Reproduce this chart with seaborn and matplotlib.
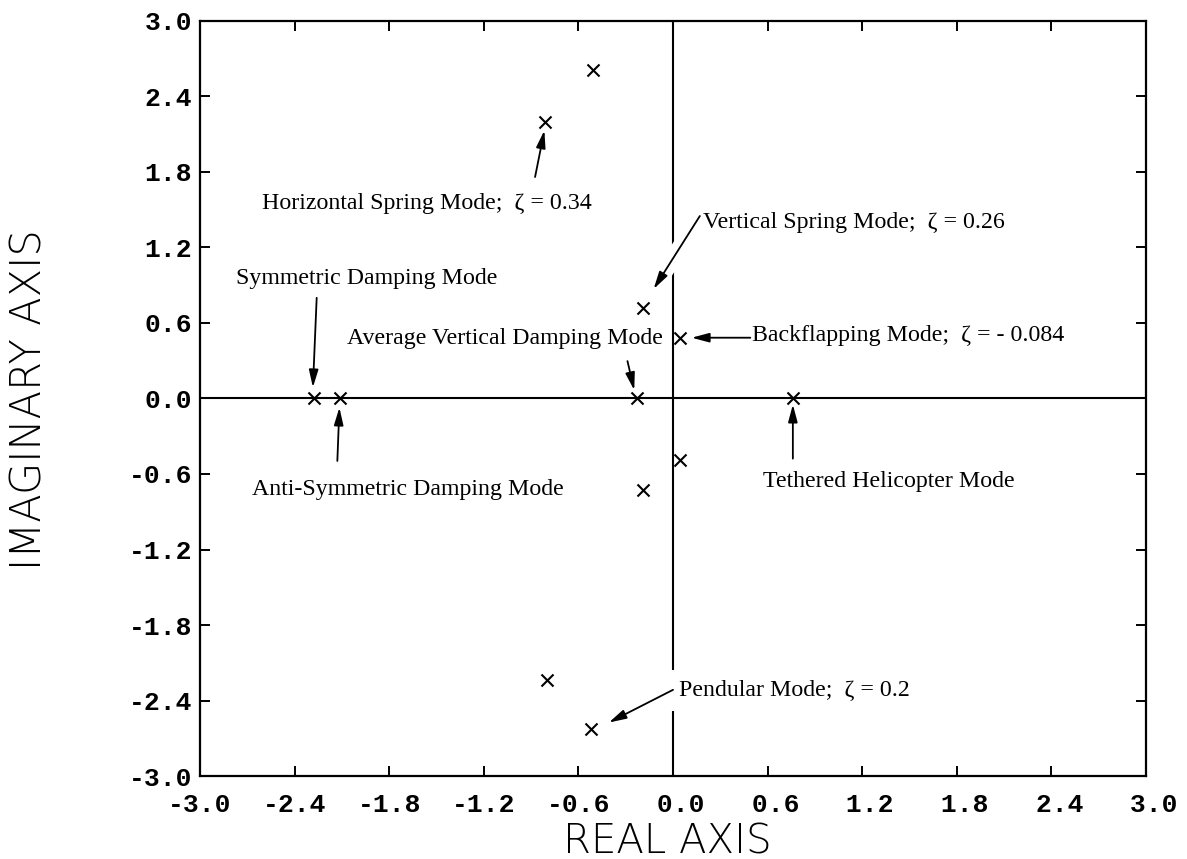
import numpy as np
import pandas as pd
import matplotlib
matplotlib.use("Agg")
import matplotlib.pyplot as plt
import seaborn as sns

# ---------------- data ----------------
real_part = [-0.51, -0.81, -0.19, 0.045, -2.28, -2.11, -0.23, 0.76, 0.045, -0.19, -0.80, -0.52]
imag_part = [2.61, 2.20, 0.72, 0.48, 0.0, 0.0, 0.0, 0.0, -0.49, -0.73, -2.24, -2.63]

tick_values = [-3.0, -2.4, -1.8, -1.2, -0.6, 0.0, 0.6, 1.2, 1.8, 2.4, 3.0]
x_tick_labels = ["-3.0", "-2.4", "-1.8", "-1.2", "-0.6", " 0.0", " 0.6", " 1.2", " 1.8", " 2.4", " 3.0"]
y_tick_labels = ["-3.0", "-2.4", "-1.8", "-1.2", "-0.6", "0.0", "0.6", "1.2", "1.8", "2.4", "3.0"]

label_texts = [
    "Horizontal Spring Mode;  \u03b6 = 0.34",
    "Vertical Spring Mode;  \u03b6 = 0.26",
    "Symmetric Damping Mode",
    "Average Vertical Damping Mode",
    "Backflapping Mode;  \u03b6 = - 0.084",
    "Anti-Symmetric Damping Mode",
    "Tethered Helicopter Mode",
    "Pendular Mode;  \u03b6 = 0.2",
]
label_x = [-2.61, 0.19, -2.77, -2.07, 0.50, -2.67, 0.57, 0.036]
label_y = [1.55, 1.40, 0.95, 0.48, 0.50, -0.72, -0.66, -2.32]

arrow_tail_x = [-0.875, 0.17, -2.26, -0.289, 0.49, -2.129, 0.76, 0.0]
arrow_tail_y = [1.76, 1.45, 0.80, 0.297, 0.483, -0.496, -0.478, -2.315]
arrow_head_x = [-0.816, -0.123, -2.284, -0.246, 0.118, -2.116, 0.76, -0.407]
arrow_head_y = [2.13, 0.87, 0.088, 0.066, 0.483, -0.072, -0.048, -2.575]

# ---------------- style ----------------
sns.set_theme(style="ticks")
plt.rcParams["font.family"] = ["DejaVu Sans"]

fig = plt.figure(figsize=(11.87, 8.59), dpi=100)
fig.patch.set_facecolor("white")
ax = fig.add_axes([0.1685, 0.0966, 0.797, 0.879])
ax.set_facecolor("white")

# zero axes lines
ax.axhline(0, color="black", lw=1.5, zorder=1)
ax.axvline(0, color="black", lw=1.5, zorder=1)

df = pd.DataFrame({"real": real_part, "imag": imag_part})
sns.scatterplot(data=df, x="real", y="imag", marker="x", s=75, color="black",
                linewidth=1.5, ax=ax, zorder=6, legend=False)

ax.set_xlim(-3.0, 3.0)
ax.set_ylim(-3.0, 3.0)
ax.set_xticks(tick_values)
ax.set_yticks(tick_values)
ax.set_xticklabels(x_tick_labels)
ax.set_yticklabels(y_tick_labels)
ax.set_xlabel("")
ax.set_ylabel("")

for sp in ax.spines.values():
    sp.set_visible(True)
    sp.set_linewidth(1.6)
    sp.set_color("black")

ax.tick_params(axis="both", direction="in", length=7, width=1.4, color="black",
               top=True, right=True, labelsize=19, labelcolor="black")
ax.tick_params(axis="x", pad=12.5)
ax.tick_params(axis="y", pad=5.5)
for lab in ax.get_xticklabels() + ax.get_yticklabels():
    lab.set_fontfamily("Liberation Mono")
    lab.set_fontweight("bold")

# arrows
for i in range(len(arrow_tail_x)):
    if i == 1:
        # white mask under this arrow (breaks the zero line like the original)
        ax.annotate("", xy=(arrow_head_x[i], arrow_head_y[i]),
                    xytext=(arrow_tail_x[i], arrow_tail_y[i]),
                    arrowprops=dict(arrowstyle="-", color="white", lw=12,
                                    shrinkA=0, shrinkB=14), zorder=2)
    props = dict(arrowstyle="-|>,head_length=0.75,head_width=0.2", color="black",
                 lw=1.3, shrinkA=0, shrinkB=0, mutation_scale=14)
    ax.annotate("", xy=(arrow_head_x[i], arrow_head_y[i]),
                xytext=(arrow_tail_x[i], arrow_tail_y[i]),
                arrowprops=props, zorder=3)

# annotation labels (drawn above arrows)
for i, (t, lx, ly) in enumerate(zip(label_texts, label_x, label_y)):
    kw = {}
    if i == 7:
        kw["bbox"] = dict(boxstyle="square,pad=0.4", fc="white", ec="none")
    ax.text(lx, ly, t, ha="left", va="center", fontsize=17.2,
            family=["Liberation Serif", "DejaVu Serif"], color="black",
            zorder=2 if i == 7 else 5, **kw)

# axis titles
fig.text(667 / 1187, 1 - 853 / 859, "REAL AXIS", ha="center", va="baseline",
         fontsize=29, fontweight="light", family=["DejaVu Sans"], color="black")
fig.text(42 / 1187, 1 - 400 / 859, "IMAGINARY AXIS", ha="center", va="baseline",
         rotation=90, rotation_mode="anchor",
         fontsize=30, fontweight="light", family=["DejaVu Sans"], color="black")

fig.savefig("out.png", dpi=100, facecolor="white")
